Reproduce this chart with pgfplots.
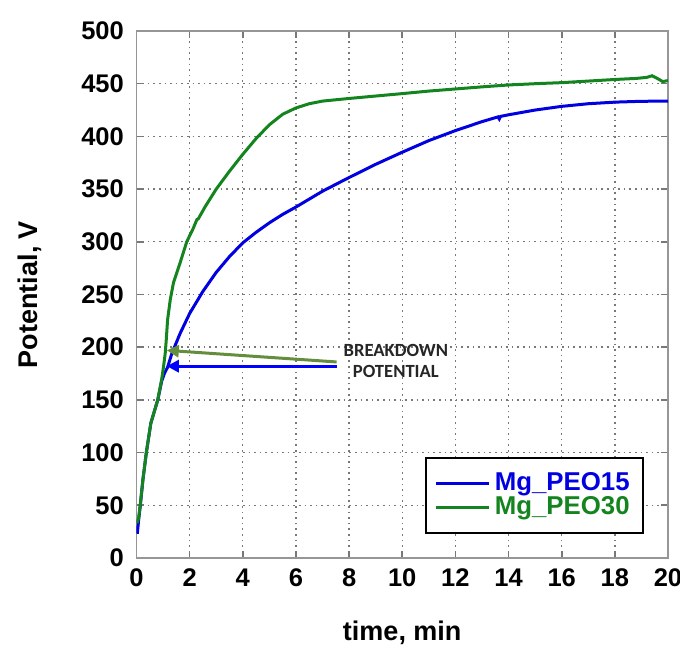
\documentclass[border=0pt]{standalone}
\usepackage{pgfplots}
\pgfplotsset{compat=1.18}
\usepackage{fontspec}
\setmainfont{Liberation Sans}
\newfontfamily\annfont{Carlito}
\usetikzlibrary{arrows.meta}
\definecolor{curveblue}{RGB}{0,0,225}
\definecolor{curvegreen}{RGB}{20,132,30}
\definecolor{arrowgreen}{RGB}{100,142,62}
\definecolor{framegray}{RGB}{150,150,150}
\definecolor{gridgray}{RGB}{120,120,120}

\begin{document}
\begin{tikzpicture}
\useasboundingbox (0,0) rectangle (340pt,324pt);
\begin{axis}[
    at={(68.25pt,45pt)}, anchor=south west,
    scale only axis,
    width=265.75pt, height=263.5pt,
    xmin=0, xmax=20, ymin=0, ymax=500,
    xtick={0,2,...,20}, ytick={0,50,...,500},
    tick pos=both, tick align=inside,
    major tick length=3.5pt,
    major tick style={gridgray, line width=0.8pt},
    axis line style={framegray, line width=0.8pt},
    grid=major,
    major grid style={gridgray, line width=0.7pt, dash pattern=on 0.8pt off 2pt},
    /pgf/number format/assume math mode=true,
    ticklabel style={font=\bfseries\fontsize{12.75}{14}\selectfont},
    yticklabel style={xshift=-2.8pt},
    xticklabel style={yshift=-2pt},
    xlabel={time, min},
    ylabel={Potential, V},
    every axis x label/.style={at={(rel axis cs:0.5,0)}, yshift=-37.5pt, anchor=center,
        font=\bfseries\fontsize{13.5}{15}\selectfont},
    every axis y label/.style={at={(rel axis cs:0,0.5)}, xshift=-53.5pt, rotate=90, anchor=center,
        font=\bfseries\fontsize{13.5}{15}\selectfont},
    legend style={at={(axis cs:10.85,96)}, anchor=north west, draw=black, line width=1pt,
        font=\bfseries\fontsize{12.9}{14}\selectfont, inner xsep=4.5pt, inner ysep=5.5pt,
        row sep=-2.5pt},
    legend cell align=left,
    legend image code/.code={\draw[#1, line width=1.5pt] (0pt,0pt) -- (26.5pt,0pt);},
]
\addplot[curveblue, line width=1.5pt] coordinates {
    (0.03,23) (0.08,36) (0.14,49) (0.24,74) (0.37,100) (0.54,128) (0.80,150)
    (0.95,168) (1.05,175) (1.17,181) (1.33,194) (1.64,213) (2.00,232) (2.50,253)
    (3.00,271) (3.50,286) (4.00,299) (4.50,309) (5.00,318) (5.50,326) (6.00,333)
    (7.00,348) (8.00,361) (9.00,373.5) (10.00,385) (11.00,396) (12.00,405.5)
    (13.00,414) (13.60,418.5) (13.65,416.5) (13.70,419) (14.00,420.5) (15.00,425)
    (16.00,428.5) (17.00,431) (18.00,432.5) (19.00,433.3) (20.00,433.5)
};
\addlegendentry{\textcolor{curveblue}{Mg\_PEO15}}
\addplot[curvegreen, line width=1.5pt] coordinates {
    (0.02,33) (0.08,38) (0.14,50) (0.24,74) (0.37,100) (0.54,128) (0.80,150)
    (0.95,170) (1.02,182) (1.08,194) (1.12,207) (1.17,226) (1.27,245) (1.39,261)
    (1.64,280) (1.89,300) (2.14,313) (2.27,321) (2.33,322) (2.60,334) (3.00,350)
    (3.50,367) (4.00,383) (4.50,398) (5.00,411) (5.50,421) (6.00,427) (6.50,431)
    (7.00,433.5) (8.00,436) (9.00,438.3) (10.00,440.6) (11.00,443) (12.00,445)
    (13.00,447) (14.00,448.8) (15.00,450) (16.00,451) (17.00,452.5) (18.00,454)
    (18.80,455) (19.20,456) (19.40,457.5) (19.60,455) (19.80,452) (20.00,453)
};
\addlegendentry{\textcolor{curvegreen}{Mg\_PEO30}}
\draw[arrowgreen, line width=1.5pt, -{Triangle[length=6pt,width=6pt]}]
    (axis cs:7.53,186) -- (axis cs:1.14,197);
\draw[blue, line width=1.6pt, -{Triangle[length=6pt,width=6pt]}]
    (axis cs:7.53,182) -- (axis cs:1.14,182);
\node[font=\annfont\bfseries\fontsize{9.3}{10.5}\selectfont, align=center, text=black!85]
    at (axis cs:9.76,187) {BREAKDOWN\\POTENTIAL};
\end{axis}
\end{tikzpicture}
\end{document}
